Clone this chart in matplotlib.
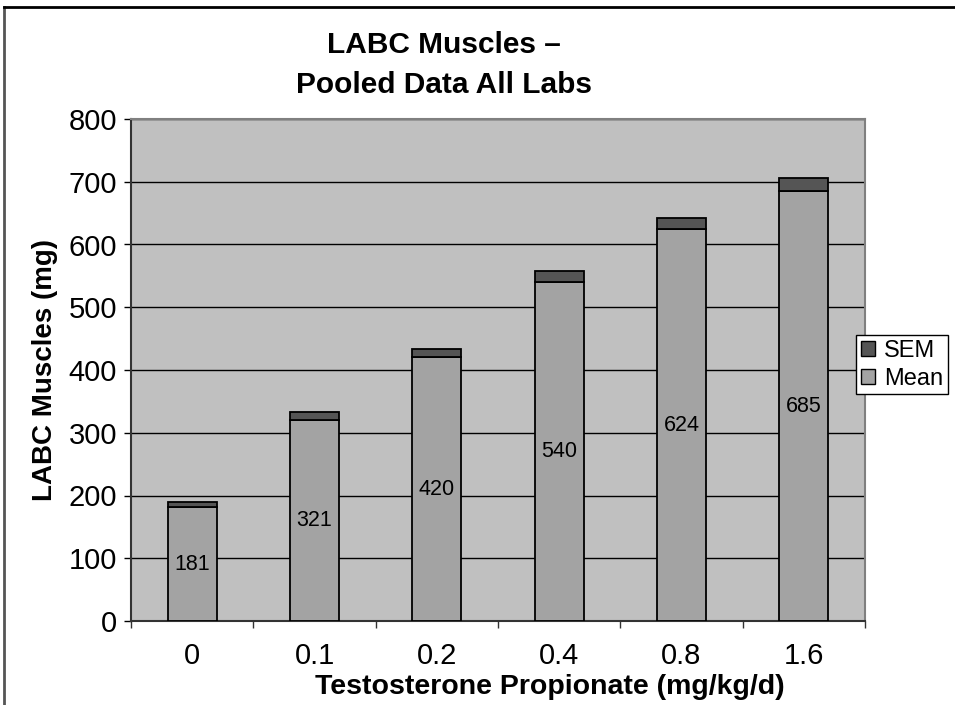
import numpy as np
import matplotlib.pyplot as plt
from matplotlib.lines import Line2D

plt.rcParams['font.family'] = ['Liberation Sans', 'DejaVu Sans']

doses = ['0', '0.1', '0.2', '0.4', '0.8', '1.6']
mean_vals = [181, 321, 420, 540, 624, 685]
sem_vals = [8, 12, 14, 18, 19, 21]

W, H = 955, 705
fig = plt.figure(figsize=(W / 100, H / 100), dpi=100)
fig.patch.set_facecolor('white')

# plot area in pixels: x 131-865, y 119-621
ax = fig.add_axes([131 / W, 1 - 621 / H, (865 - 131) / W, (621 - 119) / H])
ax.set_facecolor('#c0c0c0')

x = np.arange(len(doses))
ax.bar(x, mean_vals, width=0.4, color='#a3a3a3', edgecolor='black',
       linewidth=1.3, zorder=3, label='Mean')
ax.bar(x, sem_vals, width=0.4, bottom=mean_vals, color='#555555',
       edgecolor='black', linewidth=1.3, zorder=3, label='SEM')

for xi, m in zip(x, mean_vals):
    ax.text(xi, m / 2, str(m), ha='center', va='center', fontsize=15.5, zorder=4)

ax.set_xlim(-0.5, len(doses) - 0.5)
ax.set_ylim(0, 800)
ax.set_yticks(np.arange(0, 801, 100))
ax.yaxis.grid(True, color='black', linewidth=1.0, zorder=0)
ax.set_axisbelow(True)
ax.tick_params(axis='y', labelsize=21, length=5, width=1, pad=5)

ax.set_xticks(np.arange(-0.5, len(doses), 1.0))
ax.set_xticklabels([])
ax.tick_params(axis='x', which='major', length=5, width=1, color='#333333')
ax.set_xticks(x, minor=True)
ax.set_xticklabels(doses, minor=True)
ax.tick_params(axis='x', which='minor', length=0, labelsize=21, pad=15)

for s in ['top', 'right']:
    ax.spines[s].set_color('#808080')
    ax.spines[s].set_linewidth(1.5)
ax.spines['left'].set_color('#333333')
ax.spines['bottom'].set_color('#333333')
ax.spines['left'].set_linewidth(1.5)
ax.spines['bottom'].set_linewidth(1.5)

ax.set_xlabel('Testosterone Propionate (mg/kg/d)', fontsize=20.5, fontweight='bold')
ax.xaxis.set_label_coords((550 - 131) / (865 - 131), -(687 - 621) / (621 - 119))
ax.xaxis.label.set_va('center')
ax.set_ylabel('LABC Muscles (mg)', fontsize=20, fontweight='bold', labelpad=8)

fig.text(444 / W, 1 - 45 / H, 'LABC Muscles \u2013', ha='center', va='center',
         fontsize=21.5, fontweight='bold')
fig.text(444 / W, 1 - 85 / H, 'Pooled Data All Labs', ha='center', va='center',
         fontsize=21.5, fontweight='bold')

handles = [
    plt.Rectangle((0, 0), 1, 1, facecolor='#555555', edgecolor='black', linewidth=1),
    plt.Rectangle((0, 0), 1, 1, facecolor='#a3a3a3', edgecolor='black', linewidth=1),
]
leg = fig.legend(handles, ['SEM', 'Mean'], loc='upper left',
                 bbox_to_anchor=(856 / W, 1 - 335 / H), fontsize=17,
                 frameon=True, fancybox=False, framealpha=1, edgecolor='black',
                 handlelength=0.6, handleheight=0.6, handletextpad=0.4,
                 borderpad=0.2, labelspacing=0.25, borderaxespad=0)
leg.get_frame().set_linewidth(1)

# outer chart border (left and top only visible)
fig.add_artist(Line2D([4 / W, 4 / W], [0, 1 - 7 / H], color='#555555', linewidth=2))
fig.add_artist(Line2D([4 / W, 1], [1 - 7 / H, 1 - 7 / H], color='black', linewidth=2))

fig.savefig('out.png', dpi=100)
